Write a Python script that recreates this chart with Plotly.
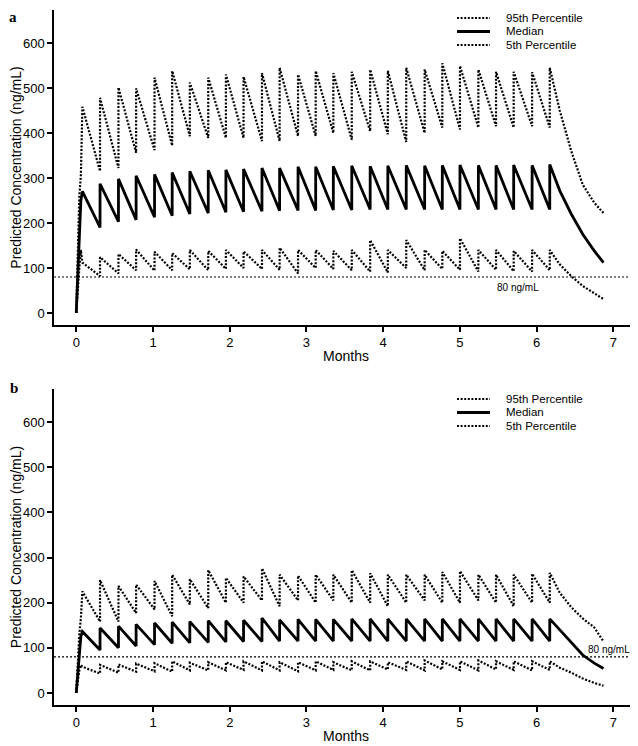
import plotly.graph_objects as go

# dosing times (months); first entry is the end of the initial rise
dose_months = [0.08, 0.31, 0.55, 0.78, 1.02, 1.25, 1.48, 1.72, 1.95, 2.18, 2.42, 2.65, 2.89, 3.12,
               3.35, 3.59, 3.83, 4.06, 4.30, 4.54, 4.77, 5.00, 5.24, 5.47, 5.70, 5.94, 6.17]
rise_months = [0.0, 0.02, 0.04, 0.06]
tail_months = [6.30, 6.45, 6.60, 6.75, 6.87]
threshold = 80

# panel a
a_p95_rise = [0, 120, 260, 305]
a_p95_peak = [458, 478, 501, 499, 523, 538, 512, 523, 530, 525, 533, 545, 530, 538,
              533, 536, 541, 538, 545, 541, 555, 549, 541, 536, 536, 535, 545]
a_p95_trough = [315, 322, 356, 362, 372, 393, 389, 389, 389, 382, 382, 393, 393,
                400, 385, 404, 397, 380, 400, 412, 408, 412, 415, 412, 415, 412]
a_p95_tail = [450, 360, 285, 245, 222]

a_med_rise = [0, 80, 180, 250]
a_med_peak = [270, 287, 298, 305, 308, 312, 315, 317, 318, 320, 322, 322, 325, 325,
              326, 327, 326, 327, 328, 327, 328, 329, 328, 328, 329, 328, 330]
a_med_trough = [190, 203, 207, 213, 216, 220, 222, 224, 225, 226, 227, 228, 228,
                229, 229, 230, 230, 230, 230, 230, 230, 230, 230, 230, 230, 230]
a_med_tail = [272, 220, 175, 138, 112]

a_p5_rise = [0, 60, 100, 140]
a_p5_peak = [112, 124, 131, 141, 136, 133, 140, 138, 140, 137, 140, 145, 140, 140,
             138, 140, 162, 140, 162, 140, 138, 166, 140, 140, 138, 140, 140]
a_p5_trough = [82, 88, 95, 94, 95, 97, 95, 98, 100, 98, 96, 88, 100,
               98, 95, 92, 90, 100, 95, 98, 96, 92, 96, 93, 92, 95]
a_p5_tail = [108, 82, 60, 43, 31]

# panel b
b_p95_rise = [0, 80, 130, 165]
b_p95_peak = [225, 250, 237, 240, 248, 262, 252, 272, 255, 258, 276, 262, 260, 262,
              262, 272, 265, 262, 262, 262, 268, 270, 262, 262, 262, 264, 266]
b_p95_trough = [158, 158, 177, 185, 170, 196, 188, 200, 200, 205, 192, 205, 200,
                205, 200, 200, 192, 200, 205, 200, 200, 205, 200, 192, 200, 200]
b_p95_tail = [222, 190, 165, 145, 114]

b_med_rise = [0, 40, 90, 125]
b_med_peak = [136, 144, 148, 152, 155, 157, 158, 160, 160, 161, 166, 162, 163, 163,
              163, 164, 164, 164, 164, 164, 164, 164, 164, 164, 164, 164, 164]
b_med_trough = [95, 100, 104, 107, 110, 111, 112, 113, 114, 114, 115, 115, 115,
                115, 115, 115, 115, 115, 115, 115, 115, 115, 115, 115, 115, 115]
b_med_tail = [140, 112, 84, 66, 54]

b_p5_rise = [0, 30, 50, 62]
b_p5_peak = [58, 62, 63, 65, 66, 70, 67, 68, 68, 70, 70, 68, 68, 70,
             68, 70, 70, 68, 70, 72, 70, 70, 72, 70, 70, 70, 70]
b_p5_trough = [43, 45, 47, 48, 47, 50, 50, 50, 51, 50, 50, 48, 50,
               51, 50, 50, 52, 51, 50, 52, 51, 50, 52, 51, 50, 51]
b_p5_tail = [56, 45, 32, 22, 16]

names = ["95th Percentile", "Median", "5th Percentile"]


def sawtooth(rise, peaks, troughs, tail):
    x = list(rise_months)
    y = list(rise)
    x.append(dose_months[0])
    y.append(peaks[0])
    for t, lo, hi in zip(dose_months[1:], troughs, peaks[1:]):
        x += [t, t]
        y += [lo, hi]
    x += tail_months
    y += tail
    return x, y


# page body has an 8px margin, so the figure is 8px smaller and positions are shifted
W, H, OFF = 630, 738, 8


def xp(px):
    return (px - OFF) / W


def yp(py):
    return 1 - (py - OFF) / H


FONT = "Liberation Sans, Arial, sans-serif"
dotted = dict(color="black", width=2.2, dash="2px,1.6px")
solid = dict(color="black", width=2.8)
styles = [dotted, solid, dotted]

panels = [
    ("", [(a_p95_rise, a_p95_peak, a_p95_trough, a_p95_tail),
          (a_med_rise, a_med_peak, a_med_trough, a_med_tail),
          (a_p5_rise, a_p5_peak, a_p5_trough, a_p5_tail)]),
    ("2", [(b_p95_rise, b_p95_peak, b_p95_trough, b_p95_tail),
           (b_med_rise, b_med_peak, b_med_trough, b_med_tail),
           (b_p5_rise, b_p5_peak, b_p5_trough, b_p5_tail)]),
]

fig = go.Figure()
for suffix, series in panels:
    for name, style, s in zip(names, styles, series):
        x, y = sawtooth(*s)
        fig.add_trace(go.Scatter(x=x, y=y, mode="lines", name=name, line=style,
                                 xaxis="x" + suffix, yaxis="y" + suffix, showlegend=False))

axis_common = dict(showline=True, linecolor="black", linewidth=1.5, ticks="outside",
                   ticklen=5, tickwidth=1.5, tickcolor="black", showgrid=False,
                   zeroline=False, automargin=False,
                   tickfont=dict(family=FONT, size=13, color="black"))
xcommon = dict(axis_common, range=[-0.29, 7.32], tick0=0, dtick=1, domain=[xp(54), 1.0],
               title=dict(text="Months", font=dict(family=FONT, size=14, color="black"),
                          standoff=2))
ycommon = dict(axis_common, range=[-26.7, 673.3], tick0=0, dtick=100,
               title=dict(text="Predicted Concentration (ng/mL)",
                          font=dict(family=FONT, size=14, color="black"), standoff=0))

fig.update_layout(
    width=W, height=H,
    margin=dict(l=0, r=0, t=0, b=0),
    paper_bgcolor="white", plot_bgcolor="white",
    showlegend=False,
    xaxis=dict(xcommon, anchor="y"),
    yaxis=dict(ycommon, domain=[yp(325), yp(10)], anchor="x"),
    xaxis2=dict(xcommon, anchor="y2"),
    yaxis2=dict(ycommon, domain=[yp(705), yp(389)], anchor="x2"),
)

# 80 ng/mL reference lines
for xr, yr, lx, ly in [("x", "y", 5.76, 57), ("x2", "y2", 6.94, 97)]:
    fig.add_shape(type="line", xref=xr + " domain", yref=yr, x0=0, x1=1,
                  y0=threshold, y1=threshold, line=dict(color="black", width=1.2, dash="2px,2px"))
    fig.add_annotation(x=lx, y=ly, xref=xr, yref=yr, text=f"{threshold} ng/mL", showarrow=False,
                       font=dict(family=FONT, size=10, color="black"))

# legend key drawn per panel (rows ~14 px apart like the original)
for top in [18, 399]:
    for i, (name, style) in enumerate(zip(names, styles)):
        ypix = top + i * 13.5
        fig.add_shape(type="line", xref="paper", yref="paper", x0=xp(457), x1=xp(490),
                      y0=yp(ypix), y1=yp(ypix), line=style)
        fig.add_annotation(x=xp(504), y=yp(ypix), xref="paper", yref="paper", text=name,
                           showarrow=False, xanchor="left", yanchor="middle",
                           font=dict(family=FONT, size=11.5, color="black"))

# panel letters
fig.add_annotation(x=0.0, y=1.0, xref="paper", yref="paper", text="<b>a</b>",
                   showarrow=False, xanchor="left", yanchor="top", borderpad=0,
                   font=dict(family="Liberation Serif, Times New Roman, serif", size=15,
                             color="black"))
fig.add_annotation(x=0.0, y=yp(388), xref="paper", yref="paper", text="<b>b</b>",
                   showarrow=False, xanchor="left", yanchor="middle",
                   font=dict(family="Liberation Serif, Times New Roman, serif", size=15,
                             color="black"))

fig.write_html("out.html")
